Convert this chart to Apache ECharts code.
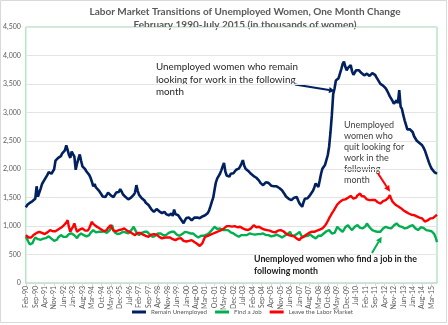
<!DOCTYPE html>
<html><head><meta charset="utf-8">
<script src="https://cdn.jsdelivr.net/npm/echarts@6/dist/echarts.min.js"></script>
<style>html,body{margin:0;padding:0;background:#fff}#c{width:448px;height:325px}</style>
</head><body><div id="c"></div>
<script>
const monthNames = ['Jan','Feb','Mar','Apr','May','Jun','Jul','Aug','Sep','Oct','Nov','Dec'];
const categories = [];
for (let y = 1990; y <= 2015; y++) {
  for (let m = 0; m < 12; m++) {
    if (y === 1990 && m < 1) continue;
    if (y === 2015 && m > 6) break;
    categories.push(monthNames[m] + '-' + String(y % 100).padStart(2, '0'));
  }
}

const remainUnemployed = [
  1330,1370,1390,1410,1400,1440,1450,1480,1700,1520,1590,
  1660,1740,1770,1820,1860,1900,1950,1960,1920,1890,2000,2150,
  2120,2200,2180,2230,2280,2250,2330,2420,2340,2250,2200,2310,
  2340,2220,1990,2100,2180,2260,2150,2050,2060,2000,1960,1930,
  1900,1850,1780,1700,1740,1680,1650,1630,1600,1560,1520,1490,
  1510,1540,1590,1570,1540,1520,1510,1540,1590,1620,1600,1650,
  1610,1560,1530,1510,1480,1470,1460,1500,1530,1550,1590,1720,
  1620,1550,1520,1490,1460,1450,1410,1390,1370,1340,1300,1270,
  1250,1270,1300,1280,1260,1240,1230,1220,1250,1210,1200,1190,
  1200,1220,1180,1290,1210,1200,1190,1160,1120,1090,1050,1100,
  1140,1130,1150,1120,1100,1105,1150,1130,1150,1160,1140,1170,
  1170,1180,1190,1200,1230,1280,1350,1430,1500,1640,1770,1840,
  1880,1920,1980,2050,2110,1960,1890,1900,1870,1920,1950,1930,
  1950,1990,2000,2010,2050,2100,2160,2060,2010,2030,1970,1950,
  1920,1900,1880,1860,1850,1840,1800,1760,1740,1720,1740,1770,
  1780,1760,1730,1710,1690,1700,1720,1700,1690,1670,1650,1630,
  1600,1560,1520,1490,1480,1470,1456,1480,1500,1490,1510,1450,
  1400,1370,1340,1420,1480,1510,1490,1520,1550,1570,1620,1680,
  1750,1720,1690,1800,1920,2010,2040,2080,2100,2250,2400,2650,
  2950,3320,3420,3560,3540,3600,3620,3760,3850,3890,3800,3740,
  3780,3810,3830,3720,3660,3700,3740,3770,3740,3730,3690,3660,
  3650,3670,3680,3650,3640,3650,3690,3720,3660,3620,3590,3540,
  3500,3490,3470,3470,3420,3380,3330,3280,3260,3200,3150,3180,
  3210,3160,3390,3100,3060,2950,2860,2780,2700,2680,2700,2720,
  2650,2580,2540,2500,2480,2460,2440,2420,2380,2330,2260,2190,
  2120,2060,2010,1980,1950,1960,1920
];

const findAJob = [
  812,780,720,680,650,700,760,800,784,770,790,
  760,754,780,800,790,812,820,800,780,760,740,720,
  760,800,830,842,820,810,800,812,840,860,850,871,
  860,840,812,790,830,850,871,860,840,830,820,842,
  842,880,900,930,910,890,880,900,920,900,890,910,
  900,880,900,920,950,1017,930,890,871,860,850,870,
  880,900,910,890,880,871,900,920,950,988,940,890,
  860,842,860,880,890,900,910,900,880,850,830,812,
  812,830,850,871,860,871,850,840,830,842,860,880,
  890,900,880,900,870,850,842,830,842,860,880,900,
  900,890,880,871,860,871,850,830,812,800,812,830,
  842,830,840,850,860,880,900,930,960,988,970,950,
  940,959,950,930,920,930,940,930,910,890,880,871,
  860,840,820,812,830,842,850,842,830,842,860,871,
  871,860,842,850,842,860,871,860,850,871,860,842,
  850,842,830,820,812,830,842,850,842,830,812,800,
  812,830,842,860,871,900,840,812,830,842,860,850,
  900,850,812,830,820,842,830,842,850,830,812,800,
  784,800,830,842,830,842,870,890,910,930,930,900,
  870,842,880,930,988,960,940,920,900,940,980,1000,
  1017,980,950,930,960,990,1000,1017,990,970,959,959,
  959,1000,1047,1020,980,950,930,920,910,900,900,880,
  900,930,959,970,988,988,970,959,959,980,1010,1030,
  1047,1020,1000,988,988,970,959,959,970,990,1000,1017,
  1017,990,960,930,930,960,980,988,970,950,930,930,
  920,900,910,880,860,800,720
];

const leaveLaborMarket = [
  842,820,800,784,800,830,850,871,880,890,900,
  890,880,871,860,871,890,910,930,920,910,900,910,
  920,940,959,970,990,1010,1030,1060,1105,980,900,950,
  990,1047,970,900,920,940,950,959,940,920,900,920,
  960,1020,1076,1040,1017,1000,980,970,959,940,920,910,
  900,930,970,1000,1017,960,920,900,910,920,930,930,
  940,950,959,940,920,910,900,890,870,860,842,860,
  880,900,880,860,850,840,830,820,812,830,850,860,
  860,871,850,830,810,800,784,790,800,810,800,812,
  800,790,770,760,754,770,780,784,790,760,740,730,
  730,725,740,750,754,740,720,700,690,680,650,640,
  700,760,812,820,830,842,850,860,870,880,890,900,
  910,920,930,940,959,980,1000,1017,1000,980,990,990,
  1000,990,980,970,988,970,960,950,940,930,930,940,
  960,990,1017,1000,980,990,988,970,960,950,940,930,
  930,940,920,910,900,900,890,910,920,930,930,920,
  910,890,870,850,842,840,830,842,820,800,780,770,
  754,790,780,812,830,850,871,880,890,900,890,900,
  900,920,910,940,930,960,990,1010,1047,1090,1140,1180,
  1222,1260,1300,1338,1380,1400,1426,1440,1460,1485,1470,1490,
  1500,1514,1530,1500,1485,1470,1500,1540,1560,1573,1530,1514,
  1520,1500,1470,1456,1456,1440,1460,1485,1460,1430,1420,1410,
  1397,1420,1440,1456,1456,1470,1500,1544,1480,1430,1397,1380,
  1370,1350,1338,1320,1300,1280,1270,1250,1240,1222,1210,1200,
  1200,1193,1180,1170,1163,1150,1140,1135,1120,1080,1047,1100,
  1120,1135,1150,1140,1163,1180,1200
];

const seriesNames = ['Remain Unemployed', 'Find a Job', 'Leave the Labor Market'];
const titleLines = ['Labor Market Transitions of Unemployed Women, One Month Change',
                    'February 1990-July 2015 (in thousands of women)'];
const noteRemain = 'Unemployed women who remain\nlooking for work in the following\nmonth';
const noteQuit = 'Unemployed\nwomen who\nquit looking for\nwork in the\nfollowing\nmonth';
const noteFind = 'Unemployed women who find a job in the\nfollowing month';

function arrow(x1, y1, x2, y2, color) {
  const dx = x2 - x1, dy = y2 - y1, len = Math.hypot(dx, dy);
  const ux = dx / len, uy = dy / len, L = 6, W = 3;
  const bx = x2 - ux * L, by = y2 - uy * L;
  return {
    type: 'group', silent: true, children: [
      { type: 'line', shape: { x1: x1, y1: y1, x2: bx, y2: by }, style: { stroke: color, lineWidth: 2 } },
      { type: 'polygon', shape: { points: [[x2, y2], [bx - uy * W, by + ux * W], [bx + uy * W, by - ux * W]] }, style: { fill: color } }
    ]
  };
}

const FONT = 'Lato, "Liberation Sans", sans-serif';
const chart = echarts.init(document.getElementById('c'), null, { renderer: 'canvas' });
chart.setOption({
  animation: false,
  backgroundColor: '#ffffff',
  grid: { left: 21, right: 11, top: 27, bottom: 42, show: true, borderColor: '#8fd9a8', borderWidth: 1, backgroundColor: 'transparent' },
  legend: {
    data: seriesNames, bottom: 5, left: 127, itemWidth: 14, itemHeight: 3, itemGap: 8, icon: 'rect',
    textStyle: { fontSize: 6.2, color: '#595959', fontFamily: FONT }
  },
  xAxis: {
    type: 'category', data: categories, boundaryGap: false,
    axisLine: { lineStyle: { color: '#d9d9d9' } },
    axisTick: { show: true, interval: 6, length: 3, lineStyle: { color: '#d9d9d9' } },
    axisLabel: { interval: 6, rotate: 90, fontSize: 7, color: '#595959', margin: 3, fontFamily: FONT },
    splitLine: { show: false }
  },
  yAxis: {
    type: 'value', min: 0, max: 4500, interval: 500,
    axisLine: { show: false }, axisTick: { show: false },
    axisLabel: { fontSize: 7, color: '#595959', margin: 5, fontFamily: FONT,
      formatter: v => v.toLocaleString('en-US') },
    splitLine: { lineStyle: { color: '#e4e4e4' } }
  },
  series: [
    { name: seriesNames[0], type: 'line', data: remainUnemployed, showSymbol: false, symbol: 'none', color: '#002060', lineStyle: { width: 2.6 } },
    { name: seriesNames[1], type: 'line', data: findAJob, showSymbol: false, symbol: 'none', color: '#00b050', lineStyle: { width: 2.4 } },
    { name: seriesNames[2], type: 'line', data: leaveLaborMarket, showSymbol: false, symbol: 'none', color: '#ff0000', lineStyle: { width: 2.4 } }
  ],
  graphic: [
    { type: 'rect', silent: true, shape: { x: 0.5, y: 0.5, width: 446, height: 322 }, style: { fill: 'none', stroke: '#d9d9d9', lineWidth: 1 }, z: -1 },
    { type: 'text', silent: true, x: 245, y: 5, style: { text: titleLines.join('\n'), textAlign: 'center', font: 'bold 10px ' + FONT, fill: '#595959', lineHeight: 13 } },
    { type: 'text', silent: true, x: 156, y: 61, style: { text: noteRemain, font: '9.8px ' + FONT, fill: '#262626', lineHeight: 12.5 } },
    { type: 'text', silent: true, x: 344, y: 120, style: { text: noteQuit, font: '9px ' + FONT, fill: '#404040', lineHeight: 11 } },
    { type: 'text', silent: true, x: 254, y: 253, style: { text: noteFind, font: 'bold 8.8px ' + FONT, fill: '#1a1a1a', lineHeight: 12 } },
    arrow(295, 84.5, 335, 91, '#002060'),
    arrow(377.7, 173, 390, 191.7, '#ff0000'),
    arrow(372, 253, 381.7, 236.7, '#00b050')
  ]
});
</script></body></html>
